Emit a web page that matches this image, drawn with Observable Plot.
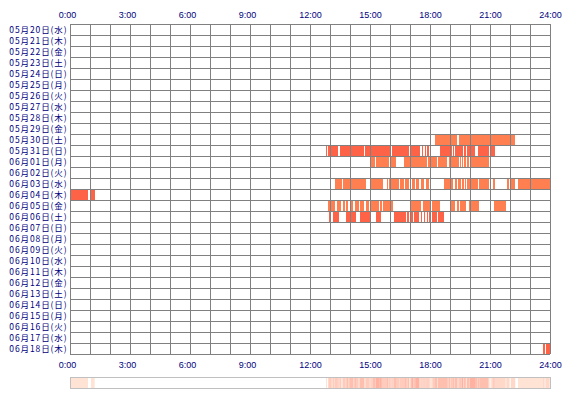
<!DOCTYPE html>
<html>
<head>
<meta charset="utf-8">
<script src="https://cdn.jsdelivr.net/npm/d3@7"></script>
<script src="https://cdn.jsdelivr.net/npm/@observablehq/plot@0.6"></script>
<style>
  html, body { margin: 0; padding: 0; background: #ffffff; }
  #chart svg { display: block; }
</style>
</head>
<body>
<div id="chart"></div>
<script>
// Row labels (dates)
const dayLabels = [
  "05月20日(水)", "05月21日(木)", "05月22日(金)", "05月23日(土)", "05月24日(日)",
  "05月25日(月)", "05月26日(火)", "05月27日(水)", "05月28日(木)", "05月29日(金)",
  "05月30日(土)", "05月31日(日)", "06月01日(月)", "06月02日(火)", "06月03日(水)",
  "06月04日(木)", "06月05日(金)", "06月06日(土)", "06月07日(日)", "06月08日(月)",
  "06月09日(火)", "06月10日(水)", "06月11日(木)", "06月12日(金)", "06月13日(土)",
  "06月14日(日)", "06月15日(月)", "06月16日(火)", "06月17日(水)", "06月18日(木)"
];
const hourTicks = [0, 3, 6, 9, 12, 15, 18, 21, 24];
const hourLabels = ["0:00", "3:00", "6:00", "9:00", "12:00", "15:00", "18:00", "21:00", "24:00"];

// Activity sessions (hours) per date
const sessions0530 = [[18.25, 19.37], [19.45, 21.02], [21.07, 22.0], [22.05, 22.25]];
const sessions0531 = [[12.8, 12.85], [12.9, 13.42], [13.5, 14.7], [14.73, 16.0], [16.08, 16.97],
  [17.03, 17.5], [17.58, 17.67], [17.73, 17.8], [17.87, 17.93], [18.5, 19.08], [19.13, 19.2],
  [19.23, 19.67], [19.7, 19.8], [19.83, 20.25], [20.4, 20.97], [21.03, 21.23]];
const sessions0601 = [[15.03, 15.25], [15.3, 15.97], [16.03, 16.3], [16.7, 17.85], [17.92, 18.35],
  [18.4, 18.85], [18.93, 19.0], [19.05, 19.45], [19.5, 19.55], [19.6, 19.65], [19.7, 19.78],
  [19.83, 19.95], [20.0, 20.93]];
const sessions0603 = [[13.25, 13.58], [13.63, 14.78], [15.05, 15.63], [15.85, 15.92], [15.97, 16.45],
  [16.5, 16.7], [16.75, 16.97], [17.1, 17.25], [17.3, 17.47], [17.55, 17.7], [17.78, 17.95],
  [18.7, 19.0], [19.05, 19.15], [19.25, 19.33], [19.42, 19.55], [19.6, 19.7], [19.75, 19.8],
  [19.85, 20.38], [20.45, 20.97], [21.15, 21.25], [21.85, 21.97], [22.03, 22.27], [22.4, 24.0]];
const sessions0604 = [[0.05, 0.9], [1.05, 1.24]];
const sessions0605 = [[12.9, 13.23], [13.37, 13.57], [13.63, 13.75], [13.82, 13.92], [14.0, 14.17],
  [14.25, 14.43], [14.5, 14.7], [14.8, 14.95], [15.02, 15.08], [15.12, 15.45], [15.5, 15.6],
  [15.63, 16.13], [17.0, 17.53], [17.67, 18.0], [18.1, 18.5], [19.05, 19.25], [19.33, 19.43],
  [19.52, 19.8], [19.97, 20.47], [21.2, 21.78]];
const sessions0606 = [[12.95, 13.05], [13.13, 13.45], [13.8, 14.3], [14.5, 15.03], [15.3, 15.55],
  [16.0, 16.07], [16.18, 16.8], [16.87, 16.97], [17.03, 17.17], [17.22, 17.47], [17.53, 17.62],
  [17.68, 17.77], [17.83, 17.92], [17.97, 18.03], [18.12, 18.35], [18.38, 18.7]];
const sessions0618 = [[23.65, 23.73], [23.78, 23.98]];

const rowSessions = [
  {row: 10, kind: "b", list: sessions0530},
  {row: 11, kind: "a", list: sessions0531},
  {row: 12, kind: "b", list: sessions0601},
  {row: 14, kind: "b", list: sessions0603},
  {row: 15, kind: "a", list: sessions0604},
  {row: 16, kind: "b", list: sessions0605},
  {row: 17, kind: "a", list: sessions0606},
  {row: 29, kind: "a", list: sessions0618}
];
const kindColor = {a: "#ff6347", b: "#ff7f50"};

const bars = rowSessions.flatMap(r => r.list.map(([s, e]) => ({row: r.row, start: s, end: e, color: kindColor[r.kind]})));

// Density strip: number of dates active at each minute, merged into runs
const counts = d3.range(1440).map(m => {
  const t = (m + 0.5) / 60;
  return bars.filter(b => b.start <= t && t < b.end).length;
});
const runs = [];
for (let m = 0; m < 1440; m++) {
  const c = counts[m];
  if (runs.length && runs[runs.length - 1].count === c) runs[runs.length - 1].end = (m + 1) / 60;
  else runs.push({start: m / 60, end: (m + 1) / 60, count: c});
}
const activeRuns = runs.filter(r => r.count > 0);
const maxCount = d3.max(counts);

const navy = "#000080";
const grid = "#808080";
const tickFont = "Liberation Sans, Arial, sans-serif";
const ticks = hourTicks.map((h, i) => ({h, label: hourLabels[i]}));
const shortTicks = ticks.filter(t => t.h < 10);
const longTicks = ticks.filter(t => t.h >= 10);

const main = Plot.plot({
  width: 570,
  height: 370,
  marginLeft: 70,
  marginRight: 20,
  marginTop: 24,
  marginBottom: 16,
  x: {domain: [0, 24], axis: null},
  y: {domain: [0, 30], reverse: true, axis: null},
  color: {type: "identity"},
  style: {background: "#ffffff", overflow: "visible"},
  marks: [
    Plot.rect(bars, {x1: "start", x2: "end", y1: "row", y2: d => d.row + 1, fill: "color", shapeRendering: "crispEdges"}),
    Plot.ruleX(d3.range(0, 25), {stroke: grid, strokeWidth: 1, strokeOpacity: 1}),
    Plot.ruleY(d3.range(0, 31), {stroke: grid, strokeWidth: 1, strokeOpacity: 1}),
    Plot.text(dayLabels, {x: 0, y: (d, i) => i + 0.5, text: d => d, textAnchor: "end", dx: -3, dy: 0.5,
      fill: navy, fontSize: 8.5, fontFamily: "Noto Sans CJK JP"}),
    Plot.text(shortTicks, {x: "h", y: 0, text: "label", dy: -9, dx: -3,
      fill: navy, fontSize: 9, fontFamily: tickFont}),
    Plot.text(longTicks, {x: "h", y: 0, text: "label", dy: -9,
      fill: navy, fontSize: 9, fontFamily: tickFont}),
    Plot.text(shortTicks, {x: "h", y: 30, text: "label", dy: 10.5, dx: -3,
      fill: navy, fontSize: 9, fontFamily: tickFont}),
    Plot.text(longTicks, {x: "h", y: 30, text: "label", dy: 10.5,
      fill: navy, fontSize: 9, fontFamily: tickFont})
  ]
});

// widen the date labels a little, like the reference's bitmap font
main.querySelectorAll("text").forEach(t => {
  if (t.textContent.includes("日(")) t.style.letterSpacing = "0.9px";
});

const strip = Plot.plot({
  width: 570,
  height: 30,
  marginLeft: 70,
  marginRight: 20,
  marginTop: 7,
  marginBottom: 12,
  x: {domain: [0, 24], axis: null},
  y: {domain: [0, 1], axis: null},
  color: {type: "linear", domain: [1, maxCount], range: ["#ffe4d6", "#ffb2a2"]},
  style: {background: "#ffffff"},
  marks: [
    Plot.rect(activeRuns, {x1: "start", x2: "end", y1: 0, y2: 1, fill: "count"}),
    Plot.frame({stroke: "#c0c0c0", strokeWidth: 1})
  ]
});

document.getElementById("chart").append(main, strip);
</script>
</body>
</html>
